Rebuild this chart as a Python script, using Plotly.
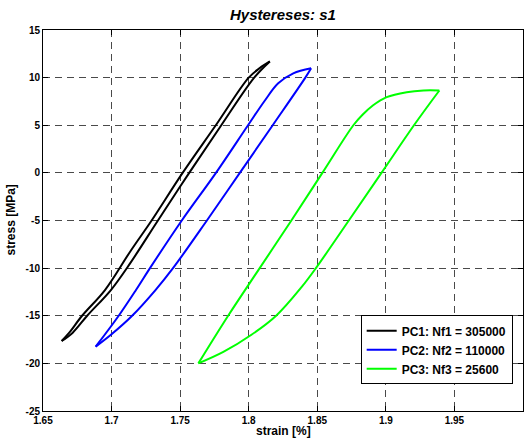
import plotly.graph_objects as go

# ---- data (strain [%], stress [MPa]) ----
# each loop: lower (loading) branch from bottom tip to top tip, upper branch from top tip back
pc1_lower_x = [1.6636, 1.6715, 1.6822, 1.6995, 1.7135, 1.7338, 1.7566, 1.7800, 1.8040, 1.8154]
pc1_lower_y = [-17.65, -16.8, -15.0, -12.3, -9.5, -5.0, 0.0, 5.0, 10.0, 11.7]
pc1_upper_x = [1.8154, 1.8080, 1.8000, 1.7760, 1.7518, 1.7292, 1.7135, 1.6952, 1.6785, 1.6690, 1.6636]
pc1_upper_y = [11.7, 11.0, 10.0, 5.0, 0.0, -5.0, -8.28, -12.3, -15.0, -16.8, -17.65]

pc2_lower_x = [1.6884, 1.6995, 1.7150, 1.7320, 1.7448, 1.7695, 1.7935, 1.8175, 1.8413, 1.8455]
pc2_lower_y = [-18.25, -17.0, -15.0, -12.3, -10.0, -5.0, 0.0, 5.0, 10.0, 10.98]
pc2_upper_x = [1.8455, 1.8325, 1.8215, 1.8118, 1.7995, 1.7761, 1.7512, 1.7280, 1.7178, 1.7052, 1.6884]
pc2_upper_y = [10.98, 10.45, 9.4, 7.6, 5.0, 0.0, -5.0, -10.0, -12.3, -15.0, -18.25]

pc3_lower_x = [1.7633, 1.7815, 1.8020, 1.8200, 1.8385, 1.8490, 1.8730, 1.8968, 1.9205, 1.9390]
pc3_lower_y = [-20.0, -18.8, -17.0, -15.0, -12.0, -10.0, -5.0, 0.0, 5.0, 8.65]
pc3_upper_x = [1.9390, 1.9274, 1.9152, 1.9006, 1.8905, 1.8830, 1.8763, 1.8537, 1.8311, 1.8080, 1.7850, 1.7633]
pc3_upper_y = [8.65, 8.65, 8.47, 7.95, 7.07, 6.1, 5.0, 0.0, -5.0, -10.0, -15.0, -20.0]

series_names = ["PC1: Nf1 = 305000", "PC2: Nf2 = 110000", "PC3: Nf3 = 25600"]
series_colors = ["#000000", "#0000ff", "#00ff00"]

x_ticks = [1.65, 1.7, 1.75, 1.8, 1.85, 1.9, 1.95, 2.0]
x_ticklabels = ["1.65", "1.7", "1.75", "1.8", "1.85", "1.9", "1.95", "2"]
y_ticks = [-25, -20, -15, -10, -5, 0, 5, 10, 15]
y_ticklabels = ["-25", "-20", "-15", "-10", "-5", "0", "5", "10", "15"]

FONT = "Liberation Sans, Arial, Helvetica, sans-serif"

loops = [
    ((pc1_lower_x, pc1_lower_y), (pc1_upper_x, pc1_upper_y)),
    ((pc2_lower_x, pc2_lower_y), (pc2_upper_x, pc2_upper_y)),
    ((pc3_lower_x, pc3_lower_y), (pc3_upper_x, pc3_upper_y)),
]

fig = go.Figure()
for i, (branches, name, col) in enumerate(zip(loops, series_names, series_colors)):
    for j, (bx, by) in enumerate(branches):
        fig.add_trace(go.Scatter(
            x=bx, y=by, mode="lines", name=name, legendgroup=f"g{i}",
            showlegend=(j == 0),
            line=dict(color=col, width=2, shape="spline", smoothing=1.0)))

axis_common = dict(
    showline=True, linecolor="black", linewidth=1, mirror="ticks",
    ticks="inside", ticklen=5, tickcolor="black", tickwidth=1,
    showgrid=True, gridcolor="#4a4a4a", gridwidth=1, griddash="7px,5px",
    zeroline=False,
    tickfont=dict(family=FONT, size=10, color="black", weight="bold"),
)

fig.update_xaxes(range=[1.65, 2.0], tickmode="array", tickvals=x_ticks,
                 ticktext=x_ticklabels, **axis_common)
fig.update_yaxes(range=[-25, 15], tickmode="array", tickvals=y_ticks,
                 ticktext=y_ticklabels, **axis_common)

fig.update_layout(
    width=524, height=439,
    margin=dict(l=43, r=1, t=30, b=28, autoexpand=False),
    paper_bgcolor="white", plot_bgcolor="white",
    showlegend=True,
    legend=dict(x=0.9785, y=0.07, xanchor="right", yanchor="bottom",
                bgcolor="white", bordercolor="black", borderwidth=1,
                font=dict(family=FONT, size=12, color="black", weight="bold"),
                tracegroupgap=0, itemwidth=30),
    annotations=[
        dict(text="<b><i>Hystereses: s1</i></b>", x=0.5, y=1, xref="paper", yref="paper",
             xanchor="center", yanchor="bottom", yshift=5, showarrow=False,
             font=dict(family=FONT, size=15, color="black")),
        dict(text="<b>strain [%]</b>", x=0.5, y=0, xref="paper", yref="paper",
             xanchor="center", yanchor="top", yshift=-11, showarrow=False,
             font=dict(family=FONT, size=12, color="black")),
        dict(text="<b>stress [MPa]</b>", x=0, y=0.5, xref="paper", yref="paper",
             xanchor="right", yanchor="middle", xshift=-24, textangle=-90, showarrow=False,
             font=dict(family=FONT, size=12, color="black")),
    ],
)

fig.write_html("out.html")
